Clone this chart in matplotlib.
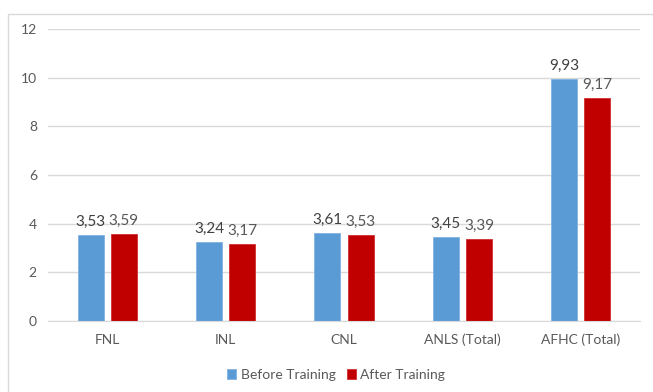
import matplotlib
matplotlib.use('Agg')
import matplotlib.pyplot as plt
import numpy as np
from matplotlib.patches import Rectangle

# data
categories = ['FNL', 'INL', 'CNL', 'ANLS (Total)', 'AFHC (Total)']
before = [3.53, 3.24, 3.61, 3.45, 9.93]
after = [3.59, 3.17, 3.53, 3.39, 9.17]
yticks = [0, 2, 4, 6, 8, 10, 12]

plt.rcParams['font.family'] = ['Lato', 'DejaVu Sans']

fig = plt.figure(figsize=(6.53, 3.92), dpi=100)
# chart frame
fig.patches.append(Rectangle((8 / 653, -0.01), 1.0, 1 - 14 / 392 + 0.01, transform=fig.transFigure,
                             fill=False, edgecolor='#D9D9D9', linewidth=1.0))

ax = fig.add_axes([48 / 653, 1 - 321 / 392, (640 - 48) / 653, (321 - 29) / 392])

x = np.arange(len(categories))
w = 0.22
gap = 0.06
b1 = ax.bar(x - (w + gap) / 2, before, w, color='#5B9BD5', edgecolor='#7FB2E0', linewidth=0.6,
            label='Before Training', zorder=3)
b2 = ax.bar(x + (w + gap) / 2, after, w, color='#C00000', edgecolor='#D03030', linewidth=0.6,
            label='After Training', zorder=3)

for rect, v in zip(b1, before):
    ax.text(rect.get_x() + rect.get_width() / 2, v + 0.25, f'{v:.2f}'.replace('.', ','),
            ha='center', va='bottom', fontsize=11, color='#404040')
for rect, v in zip(b2, after):
    ax.text(rect.get_x() + rect.get_width() / 2, v + 0.25, f'{v:.2f}'.replace('.', ','),
            ha='center', va='bottom', fontsize=11, color='#595959')

ax.set_xlim(-0.5, len(categories) - 0.5)
ax.set_ylim(0, 12)
ax.set_yticks(yticks)
ax.yaxis.grid(True, color='#D9D9D9', linewidth=1.0, zorder=0)
ax.set_xticks(x)
ax.set_xticklabels(categories)
ax.tick_params(axis='both', length=0, labelsize=10, colors='#595959', pad=8)
ax.tick_params(axis='x', pad=9)
for s in ['top', 'right', 'left']:
    ax.spines[s].set_visible(False)
ax.spines['bottom'].set_color('#D9D9D9')
ax.spines['bottom'].set_zorder(4)

leg = fig.legend(handles=[b1, b2], loc='center', bbox_to_anchor=(336 / 653, 1 - 375 / 392), ncol=2,
                 frameon=False, fontsize=10, handlelength=0.7, handleheight=0.7,
                 handletextpad=0.3, columnspacing=0.8)
for t in leg.get_texts():
    t.set_color('#595959')

fig.savefig('out.png', dpi=100)
